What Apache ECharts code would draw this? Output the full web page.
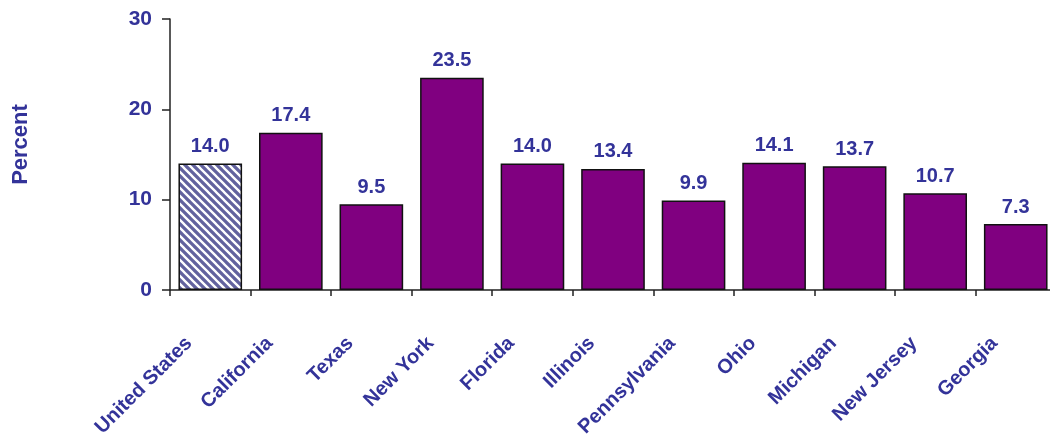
<!DOCTYPE html>
<html>
<head>
<meta charset="utf-8">
<script src="https://cdn.jsdelivr.net/npm/echarts@6/dist/echarts.min.js"></script>
<style>
html,body{margin:0;padding:0;background:#fff;}
#chart{width:1050px;height:440px;}
</style>
</head>
<body>
<div id="chart"></div>
<script>
const categories = ['United States','California','Texas','New York','Florida','Illinois','Pennsylvania','Ohio','Michigan','New Jersey','Georgia'];
const values = [14.0,17.4,9.5,23.5,14.0,13.4,9.9,14.1,13.7,10.7,7.3];
const yTicks = [0,10,20,30];
const axisTitle = 'Percent';

const textColor = '#333399';
const barColor = '#800080';
const fontFam = 'Liberation Sans, Arial, sans-serif';

function makeHatch(){
  const s = 8;
  const c = document.createElement('canvas');
  c.width = s; c.height = s;
  const g = c.getContext('2d');
  g.fillStyle = '#62629e';
  g.fillRect(0,0,s,s);
  g.strokeStyle = '#ffffff';
  g.lineWidth = 2.3;
  g.beginPath();
  g.moveTo(-2,-2); g.lineTo(s+2,s+2);
  g.moveTo(-s-2,-2); g.lineTo(2,s+2);
  g.moveTo(-2,-s-2); g.lineTo(s+2,2);
  g.stroke();
  return c;
}

const seriesData = values.map((v,i)=>{
  const d = {value:v};
  if(i===0){
    d.itemStyle = {color:{image:makeHatch(),repeat:'repeat'}};
  }
  return d;
});

const chart = echarts.init(document.getElementById('chart'), null, {renderer:'canvas'});
chart.setOption({
  animation:false,
  backgroundColor:'#ffffff',
  grid:{left:170, top:19, width:886, bottom:150, containLabel:false, outerBoundsMode:'none'},
  xAxis:{
    type:'category',
    data:categories,
    axisLine:{lineStyle:{color:'#222',width:1.5}},
    axisTick:{show:true,length:6,lineStyle:{color:'#222',width:1.5}},
    axisLabel:{rotate:45,margin:29,padding:[0,30,0,0],color:textColor,fontSize:20,fontWeight:'bold',fontFamily:fontFam,interval:0}
  },
  yAxis:{
    type:'value',
    min:yTicks[0], max:yTicks[yTicks.length-1], interval:10,
    name:axisTitle,
    nameLocation:'middle',
    nameGap:138,
    nameRotate:90,
    nameTextStyle:{color:textColor,fontSize:22,fontWeight:'bold',fontFamily:fontFam,padding:[0,0,0,20]},
    splitLine:{show:false},
    axisLine:{show:true,lineStyle:{color:'#222',width:1.5}},
    axisTick:{show:true,length:8,lineStyle:{color:'#222',width:1.5}},
    axisLabel:{margin:18,color:textColor,fontSize:21,fontWeight:'bold',fontFamily:fontFam}
  },
  series:[{
    type:'bar',
    data:seriesData,
    barCategoryGap:'21%',
    itemStyle:{color:barColor,borderColor:'#111',borderWidth:1.5},
    label:{show:true,position:'top',distance:7,formatter:p=>p.value.toFixed(1),color:textColor,fontSize:20,fontWeight:'bold',fontFamily:fontFam}
  }]
});
</script>
</body>
</html>
